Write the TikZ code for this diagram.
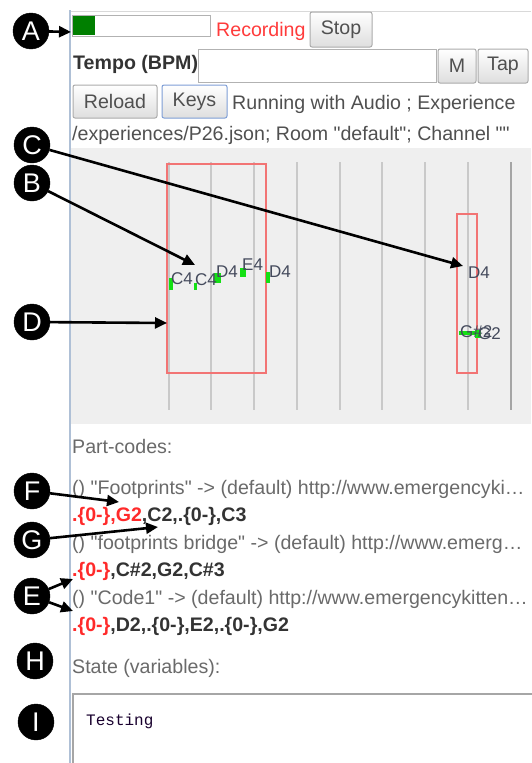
\documentclass[tikz,border=0pt]{standalone}
\usepackage{fontspec}
\setmainfont{Liberation Sans}[Ligatures=TeXOff]
\newfontfamily\monofont{Liberation Mono}
\usetikzlibrary{arrows.meta}
\definecolor{uitext}{HTML}{505050}
\definecolor{lighttext}{HTML}{6A6A6A}
\definecolor{codedark}{HTML}{333333}
\definecolor{codered}{HTML}{FF2A2A}
\definecolor{recred}{HTML}{FF3B3B}
\definecolor{panelline}{HTML}{AFC0D6}
\definecolor{canvasbg}{HTML}{EFEFEF}
\definecolor{gridline}{HTML}{C9C9C9}
\definecolor{gridend}{HTML}{A5A5A5}
\definecolor{boxred}{HTML}{F27474}
\definecolor{notegreen}{HTML}{14E014}
\definecolor{notetext}{HTML}{444A5C}
\definecolor{barfill}{HTML}{007F00}
\definecolor{keysblue}{HTML}{7E9ED6}
\definecolor{btnborder}{HTML}{ABABAB}
\newcommand\uisize{\fontsize{19.6}{22}\selectfont}
\newcommand\notesize{\fontsize{17}{19}\selectfont}
\tikzset{
  txt/.style={inner sep=0pt, anchor=base west, font=\uisize, text=uitext},
  lighttxt/.style={txt, text=lighttext},
  codetxt/.style={txt, font=\uisize\bfseries, text=codedark},
  btn/.style={draw=btnborder, rounded corners=2pt, top color=white, bottom color=black!13,
    font=\uisize, text=uitext, inner sep=0pt, line width=1pt},
  field/.style={draw=black!30, fill=white, line width=1pt},
  callout/.style={circle, fill=black, draw=black, minimum size=36pt, inner sep=0pt,
    font=\fontsize{27}{27}\selectfont, text=white},
  callarrow/.style={line width=2.6pt, -{Triangle[length=12pt,width=11pt]}},
  notelabel/.style={inner sep=0pt, anchor=base west, font=\notesize, text=notetext},
  grid/.style={gridline, line width=1.4pt},
}
\begin{document}
\begin{tikzpicture}[x=1pt,y=-1pt]
\useasboundingbox[fill=white] (0,0) rectangle (531,763);

% panel frame
\draw[black!15, line width=1pt] (70,11) -- (531,11);
\draw[panelline, line width=1.6pt] (70,10) -- (70,763);

% first row: level meter, status, stop
\draw[field] (72,15) rectangle (210,36);
\fill[barfill] (73,16) rectangle (95,35);
\node[txt, text=recred] (rec) at (216,36) {Recording};
\node[btn, minimum width=62pt, minimum height=35pt] (stop) at (341,29.5) {Stop};

% second row: tempo
\node[txt, font=\uisize\bfseries, text=codedark] (tempo) at (73,69) {Tempo (BPM)};
\draw[field] (198,49) rectangle (436,82);
\node[btn, minimum width=38pt, minimum height=34pt] (mbtn) at (457,66) {M};
\node[btn, minimum width=50pt, minimum height=34pt] (tap) at (503,66) {Tap};

% third row: reload, keys, status text
\node[btn, minimum width=84pt, minimum height=33pt] (reload) at (115,101.5) {Reload};
\node[btn, draw=keysblue, minimum width=65pt, minimum height=33pt] (keys) at (194.5,101.5) {Keys};
\node[txt] (status) at (232,109) {Running with Audio ; Experience};
\node[txt] (path) at (72,140) {/experiences/P26.json; Room "default"; Channel ""};

% timeline canvas
\fill[canvasbg] (71,148) rectangle (531,424);
\foreach \gx in {169,211,254,297,340,382,425,468}
  \draw[grid] (\gx,162) -- (\gx,410);
\draw[gridend, line width=2pt] (511,162) -- (511,410);

\draw[boxred, line width=1.6pt] (167,164) rectangle (266,373);
\draw[boxred, line width=1.6pt] (457,214) rectangle (477,373);

% note markers
\fill[notegreen] (169,278) rectangle (173,290);
\fill[notegreen] (194,283) rectangle (197,290);
\fill[notegreen] (214,273) rectangle (221,283);
\fill[notegreen] (240,268) rectangle (246,277);
\fill[notegreen] (266,272) rectangle (270,283);
\fill[notegreen] (459,331) rectangle (480,335);
\fill[notegreen] (475,330) rectangle (481,338);

% note names
\node[notelabel] (n1) at (171,284) {C4};
\node[notelabel] (n2) at (195,285) {C4};
\node[notelabel] (n3) at (216,277) {D4};
\node[notelabel] (n4) at (242,270) {E4};
\node[notelabel] (n5) at (269,277) {D4};
\node[notelabel] (n6) at (468,278) {D4};
\node[notelabel] (n7) at (460,337) {G\#2};
\node[notelabel] (n8) at (478,339) {G2};

% part codes
\node[lighttxt] (pc) at (72,453) {Part-codes:};
\node[lighttxt] (p1) at (72,494) {() "Footprints" -> (default) http://www.emergencyki…};
\node[codetxt] (c1) at (72,521) {\textcolor{codered}{.\{0-\},G2},C2,.\{0-\},C3};
\node[lighttxt] (p2) at (72,549) {() "footprints bridge" -> (default) http://www.emerg…};
\node[codetxt] (c2) at (72,576) {\textcolor{codered}{.\{0-\}},C\#2,G2,C\#3};
\node[lighttxt] (p3) at (72,604) {() "Code1" -> (default) http://www.emergencykitten…};
\node[codetxt] (c3) at (72,631) {\textcolor{codered}{.\{0-\}},D2,.\{0-\},E2,.\{0-\},G2};

% state area
\node[lighttxt] (state) at (72,673) {State (variables):};
\draw[black!35, line width=1.6pt, fill=white] (73,694) rectangle (540,775);
\node[inner sep=0pt, anchor=base west, font=\monofont\fontsize{16}{18}\selectfont, text=black!80!blue!90!red] (testing) at (86,725) {Testing};

% callouts
\node[callout] (cA) at (31,31) {A};
\node[callout] (cC) at (32,145) {C};
\node[callout] (cB) at (32,183) {B};
\node[callout] (cD) at (32,322) {D};
\node[callout] (cF) at (32,491) {F};
\node[callout] (cG) at (32,540) {G};
\node[callout] (cE) at (32,596) {E};
\node[callout] (cH) at (35,661) {H};
\node[callout] (cI) at (36,722) {I};

\coordinate (tA) at (71,32);
\coordinate (tC) at (463,266);
\coordinate (tB) at (195,265);
\coordinate (tD) at (167,323);
\coordinate (tF) at (119,502);
\coordinate (tG) at (158,527);
\coordinate (tE1) at (73,579);
\coordinate (tE2) at (73,611);

\draw[callarrow] (cA) -- (tA);
\draw[callarrow] (cC) -- (tC);
\draw[callarrow] (cB) -- (tB);
\draw[callarrow] (cD) -- (tD);
\draw[callarrow] (cF) -- (tF);
\draw[callarrow] (cG) -- (tG);
\draw[callarrow] (cE) -- (tE1);
\draw[callarrow] (cE) -- (tE2);
\end{tikzpicture}
\end{document}
